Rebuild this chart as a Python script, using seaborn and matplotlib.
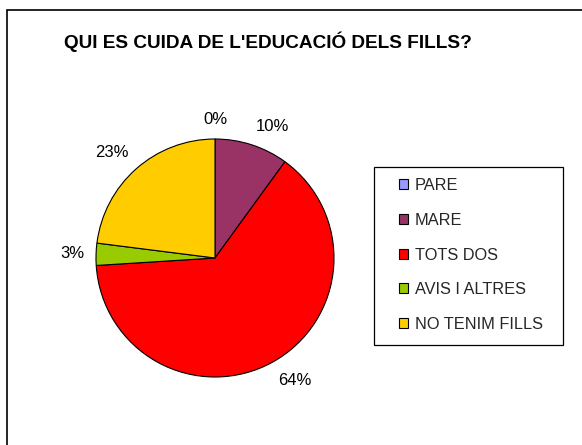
import numpy as np
import matplotlib
matplotlib.use("Agg")
import matplotlib.pyplot as plt
import seaborn as sns
from matplotlib.patches import Patch, Rectangle

# data
categories = ["PARE", "MARE", "TOTS DOS", "AVIS I ALTRES", "NO TENIM FILLS"]
shares = [0, 10, 64, 3, 23]
colors = ["#9999FF", "#993366", "#FF0000", "#99CC00", "#FFCC00"]
title = "QUI ES CUIDA DE L'EDUCACIÓ DELS FILLS?"

sns.set_theme(style="white")
plt.rcParams["font.family"] = ["Liberation Sans", "DejaVu Sans"]

W, H = 582, 445
fig = plt.figure(figsize=(W / 100, H / 100), dpi=100)
fig.patch.set_facecolor("white")

# outer chart frame (runs off the right / bottom edge like the original)
fig.add_artist(Rectangle((7 / W, -0.05), 1.2, 1 - 10 / H + 0.05,
                         transform=fig.transFigure, fill=False,
                         edgecolor="black", linewidth=1.2))

fig.text(268 / W, 1 - 42 / H, title, ha="center", va="center",
         fontsize=13.7, fontweight="bold", color="black")

# pie axes: centre (215, 258), radius 119 px
cx, cy, r = 215, 258, 119
ax = fig.add_axes([(cx - r) / W, (H - cy - r) / H, 2 * r / W, 2 * r / H])
wedges, _ = ax.pie(
    shares, colors=colors, startangle=90, counterclock=False,
    wedgeprops={"edgecolor": "black", "linewidth": 0.8},
)
ax.set_xlim(-1, 1)
ax.set_ylim(-1, 1)
ax.set_aspect("equal")
ax.axis("off")

# Excel-style outside labels: anchored just off the rim, aligned away from it
total = sum(shares)
for w, v in zip(wedges, shares):
    ang = np.deg2rad((w.theta1 + w.theta2) / 2)
    c, s = np.cos(ang), np.sin(ang)
    ha = "left" if c > 0.1 else ("right" if c < -0.1 else "center")
    va = "bottom" if s > 0.1 else ("top" if s < -0.1 else "center")
    ax.text(1.1 * c, 1.1 * s, f"{100 * v / total:.0f}%", ha=ha, va=va,
            fontsize=12, color="black")

# legend box
lx0, ly0, lx1, ly1 = 374, 167, 563, 345
fig.add_artist(Rectangle((lx0 / W, 1 - ly1 / H), (lx1 - lx0) / W, (ly1 - ly0) / H,
                         transform=fig.transFigure, fill=False,
                         edgecolor="black", linewidth=0.9))
handles = [Patch(facecolor=c, edgecolor="black", linewidth=0.8, label=l)
           for c, l in zip(colors, categories)]
fig.legend(handles=handles, loc="upper left",
           bbox_to_anchor=(391 / W, 1 - 170 / H), frameon=False,
           fontsize=11.8, handlelength=0.55, handleheight=0.55,
           handletextpad=0.4, labelspacing=1.2, borderpad=0)

fig.savefig("out.png", dpi=100, facecolor="white")
